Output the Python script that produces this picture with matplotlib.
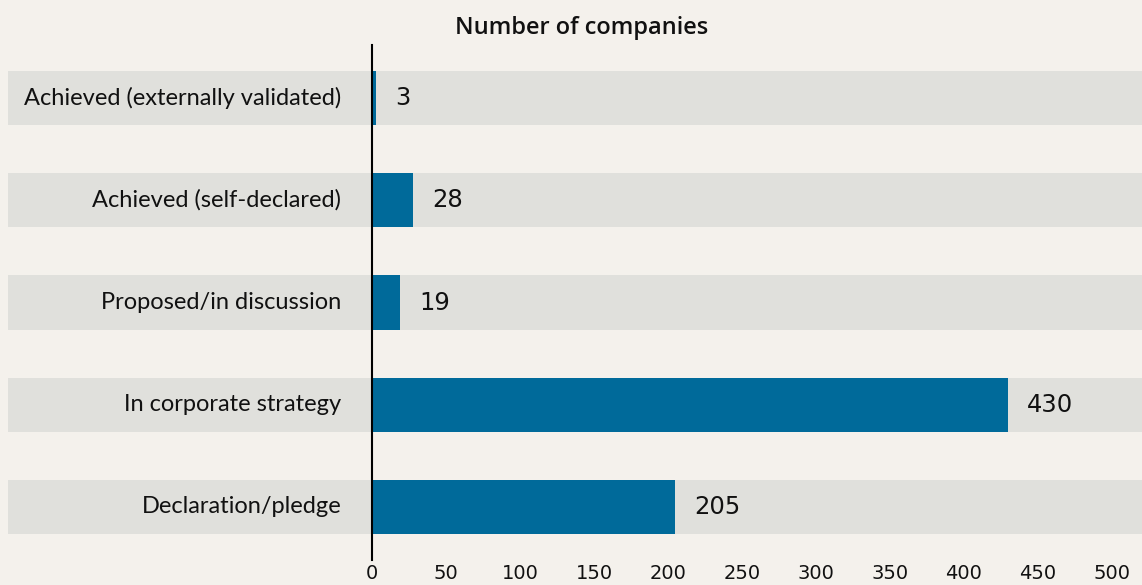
import matplotlib
matplotlib.use("Agg")
import matplotlib.pyplot as plt

# data
categories = ["Achieved (externally validated)", "Achieved (self-declared)",
              "Proposed/in discussion", "In corporate strategy", "Declaration/pledge"]
values = [3, 28, 19, 430, 205]
xticks = [0, 50, 100, 150, 200, 250, 300, 350, 400, 450, 500]

bg = "#f4f1ec"
band_color = "#e0e0dc"
bar_color = "#006a9a"

plt.rcParams['font.family'] = ['Lato', 'DejaVu Sans']

fig = plt.figure(figsize=(11.42, 5.85), dpi=100)
fig.patch.set_facecolor(bg)
ax = fig.add_axes([372/1142, 25/585, 740/1142, 515/585])
ax.set_facecolor("none")

ypos = list(range(len(categories)))
h = 0.53
# grey bands behind each bar, spanning the full width
band_left = -246
band_right = 521
ax.barh(ypos, [band_right - band_left]*len(ypos), left=band_left, height=h,
        color=band_color, clip_on=False, zorder=0)
ax.barh(ypos, values, height=h, color=bar_color, zorder=2)

for y, v in zip(ypos, values):
    ax.annotate(str(v), (v, y), xytext=(13.5, 0), textcoords="offset points",
                ha="left", va="center", fontsize=17.5, color="#111111",
                family="DejaVu Sans")
for y, c in zip(ypos, categories):
    ax.annotate(c, (0, y), xytext=(-22, 0), textcoords="offset points",
                ha="right", va="center", fontsize=17, color="#111111")

ax.set_xlim(0, 500)
ax.set_ylim(4.52, -0.52)
ax.set_xticks(xticks)
ax.set_xticklabels([str(t) for t in xticks], fontsize=14, color="#111111",
                   family="DejaVu Sans")
ax.set_yticks([])
ax.tick_params(axis="x", length=0, pad=3)
for s in ["top", "right", "bottom"]:
    ax.spines[s].set_visible(False)
ax.spines["left"].set_linewidth(1.5)
ax.spines["left"].set_color("black")
ax.spines["left"].set_zorder(3)

fig.text(582/1142, 1 - 28/585, "Number of companies", ha="center", va="center",
         fontsize=17, fontweight="semibold", color="#111111", family="Open Sans")

fig.savefig("out.png", dpi=100, facecolor=bg)
